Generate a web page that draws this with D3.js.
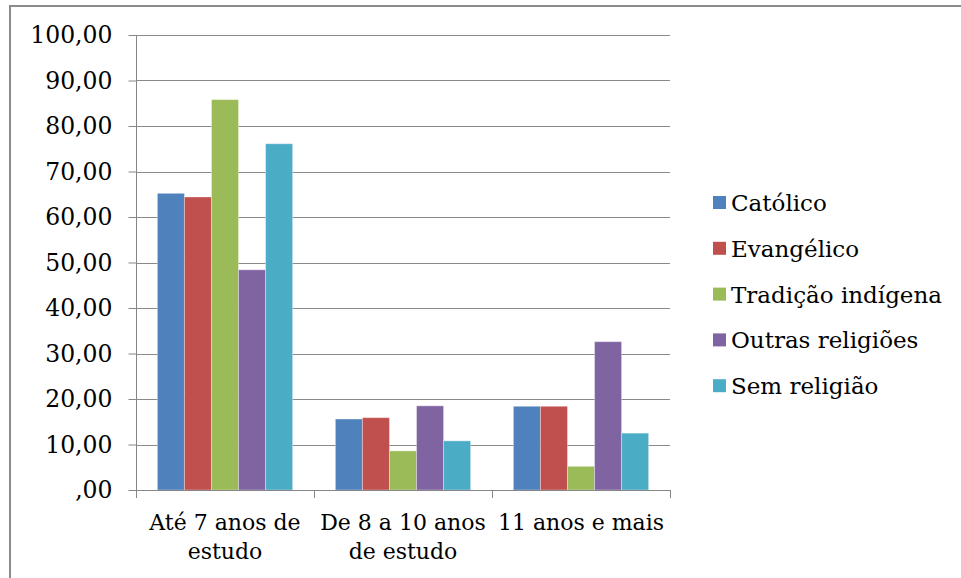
<!DOCTYPE html>
<html>
<head>
<meta charset="utf-8">
<script src="https://cdn.jsdelivr.net/npm/d3@7"></script>
<style>
  html, body { margin: 0; padding: 0; background: #fff; }
  svg { display: block; }
  text { font-family: "DejaVu Serif", "Liberation Serif", serif; fill: #000; }
</style>
</head>
<body>
<svg id="chart" width="961" height="578"></svg>
<script>
// Education level groups (x axis)
const categories = ["Até 7 anos de estudo", "De 8 a 10 anos de estudo", "11 anos e mais"];

// Religion series
const series = ["Católico", "Evangélico", "Tradição indígena", "Outras religiões", "Sem religião"];
const colors = ["#4F81BD", "#C0504D", "#9BBB59", "#8064A2", "#4BACC6"];

// Percent values per series, one per education group
const catolico   = [65.2, 15.6, 18.4];
const evangelico = [64.4, 15.9, 18.4];
const tradicao   = [85.8, 8.6, 5.2];
const outras     = [48.4, 18.5, 32.6];
const semReligiao = [76.1, 10.8, 12.5];
const values = [catolico, evangelico, tradicao, outras, semReligiao];

// Y axis ticks and their labels
const yTicks = [0, 10, 20, 30, 40, 50, 60, 70, 80, 90, 100];
const yTickLabels = [",00", "10,00", "20,00", "30,00", "40,00", "50,00", "60,00", "70,00", "80,00", "90,00", "100,00"];

const svg = d3.select("#chart");
const plot = { left: 136, right: 670, top: 35, bottom: 490 };

// Outer frame
svg.append("rect")
  .attr("x", 10).attr("y", 6)
  .attr("width", 980).attr("height", 600)
  .attr("fill", "none")
  .attr("stroke", "#8c8c8c")
  .attr("stroke-width", 2);

const y = d3.scaleLinear().domain([0, 100]).range([plot.bottom, plot.top]);
const x0 = d3.scaleBand().domain(categories).range([plot.left, plot.right]).padding(0);
const x1 = d3.scaleBand().domain(series).range([0, x0.bandwidth()])
  .paddingInner(0).paddingOuter(0.79);

// Horizontal gridlines
svg.append("g")
  .selectAll("line")
  .data(yTicks.filter(d => d > 0))
  .join("line")
  .attr("x1", plot.left).attr("x2", plot.right)
  .attr("y1", d => Math.round(y(d)) + 0.5)
  .attr("y2", d => Math.round(y(d)) + 0.5)
  .attr("stroke", "#8a8a8a")
  .attr("stroke-width", 1);

// Bars
const groups = svg.append("g")
  .selectAll("g")
  .data(categories)
  .join("g")
  .attr("transform", c => `translate(${x0(c)},0)`);

groups.selectAll("rect")
  .data((c, ci) => series.map((s, si) => ({ s, si, v: values[si][ci] })))
  .join("rect")
  .attr("x", d => x1(d.s))
  .attr("y", d => y(d.v))
  .attr("width", x1.bandwidth())
  .attr("height", d => y(0) - y(d.v))
  .attr("fill", d => colors[d.si])
  .attr("stroke", "rgba(255,255,255,0.35)")
  .attr("stroke-width", 1);

// Y axis
const yAxis = d3.axisLeft(y)
  .tickValues(yTicks)
  .tickFormat((d, i) => yTickLabels[i])
  .tickSize(8)
  .tickPadding(16);

const yg = svg.append("g")
  .attr("transform", `translate(${plot.left + 0.5},0)`)
  .call(yAxis);
yg.selectAll("path, line").attr("stroke", "#868686");
yg.select(".domain").attr("d", `M0,${plot.top}V${plot.bottom}`);
yg.selectAll("text")
  .style("font-family", '"DejaVu Serif", serif')
  .style("font-size", "23.5px")
  .attr("fill", "#000");

// X axis baseline and category boundary ticks
const xg = svg.append("g");
xg.append("line")
  .attr("x1", plot.left).attr("x2", plot.right)
  .attr("y1", plot.bottom + 0.5).attr("y2", plot.bottom + 0.5)
  .attr("stroke", "#868686");
const bounds = categories.map(c => x0(c)).concat([x0(categories[categories.length - 1]) + x0.bandwidth()]);
xg.selectAll("line.tick")
  .data(bounds)
  .join("line")
  .attr("class", "tick")
  .attr("x1", d => Math.round(d) + 0.5).attr("x2", d => Math.round(d) + 0.5)
  .attr("y1", plot.bottom).attr("y2", plot.bottom + 8)
  .attr("stroke", "#868686");

// Category labels wrapped to the band width
const labelSize = 22;
const labels = xg.selectAll("text.cat")
  .data(categories)
  .join("text")
  .attr("class", "cat")
  .attr("text-anchor", "middle")
  .style("font-size", labelSize + "px")
  .attr("x", c => x0(c) + x0.bandwidth() / 2)
  .attr("y", 530);

labels.each(function (c) {
  const t = d3.select(this);
  const cx = x0(c) + x0.bandwidth() / 2;
  const words = c.split(" ");
  let line = [];
  let tspan = t.append("tspan").attr("x", cx).attr("dy", 0);
  for (const w of words) {
    line.push(w);
    tspan.text(line.join(" "));
    if (tspan.node().getComputedTextLength() > x0.bandwidth() - 4 && line.length > 1) {
      line.pop();
      tspan.text(line.join(" "));
      line = [w];
      tspan = t.append("tspan").attr("x", cx).attr("dy", 29).text(w);
    }
  }
});

// Legend
const legend = svg.append("g")
  .selectAll("g")
  .data(series)
  .join("g")
  .attr("transform", (s, i) => `translate(713,${203 + i * 45.8})`);

legend.append("rect")
  .attr("x", 0).attr("y", -7)
  .attr("width", 13).attr("height", 13)
  .attr("fill", (s, i) => colors[i]);

legend.append("text")
  .attr("x", 18)
  .attr("y", 0)
  .attr("dy", "0.35em")
  .style("font-size", "23px")
  .text(s => s);
</script>
</body>
</html>
